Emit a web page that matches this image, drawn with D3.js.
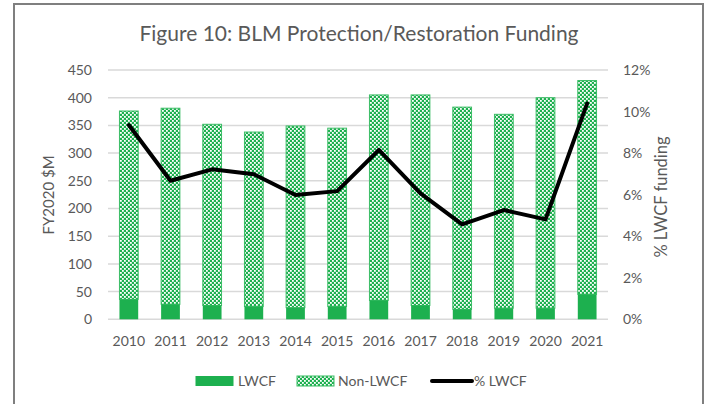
<!DOCTYPE html>
<html><head><meta charset="utf-8">
<script src="https://cdn.jsdelivr.net/npm/d3@7"></script>
<style>html,body{margin:0;padding:0;background:#fff;}svg{display:block;font-family:Lato,"Open Sans",sans-serif;}</style>
</head><body>
<svg id="c" width="709" height="404"></svg>
<script>
const years = ["2010","2011","2012","2013","2014","2015","2016","2017","2018","2019","2020","2021"];
const lwcf = [36,27,25,23,21,23,34,25,18,20,20,45];
const total = [376,381,352,338,349,345,405,405,383,370,400,431];
const pctLwcf = [9.35,6.67,7.22,6.98,5.98,6.17,8.15,6.06,4.57,5.26,4.81,10.39];
const leftTicks = [0,50,100,150,200,250,300,350,400,450];
const rightTicks = [0,2,4,6,8,10,12];

const svg = d3.select("#c");
const grey = "#595959", green = "#1db04f";
const defs = svg.append("defs");
const pat = defs.append("pattern").attr("id","dots").attr("patternUnits","userSpaceOnUse")
  .attr("width",4).attr("height",4);
pat.append("rect").attr("width",4).attr("height",4).attr("fill",green);
[[0,0],[2,2]].forEach(([x,y])=>{
  pat.append("rect").attr("x",x).attr("y",y).attr("width",1.8).attr("height",1.8).attr("fill","#fff");
});

// frame
svg.append("path").attr("d","M14,404 V4 H703 V404").attr("fill","none").attr("stroke","#7f7f7f").attr("stroke-width",2);

const x = d3.scaleBand().domain(years).range([108,608]).paddingInner(0.55).paddingOuter(0.275);
const y = d3.scaleLinear().domain([0,450]).range([319.3,70]);
const y2 = d3.scaleLinear().domain([0,12]).range([319.3,70]);

// gridlines
svg.append("g").selectAll("line").data(leftTicks).join("line")
  .attr("x1",108).attr("x2",608).attr("y1",d=>y(d)).attr("y2",d=>y(d))
  .attr("stroke","#d9d9d9").attr("stroke-width",1.5);

// axes
const ga = svg.append("g").attr("transform","translate(99,0)")
  .call(d3.axisLeft(y).tickValues(leftTicks).tickSize(0).tickPadding(7));
ga.select(".domain").remove();
ga.selectAll("text").attr("fill",grey).style("font-size","14px").style("font-family","Lato");
const gr = svg.append("g").attr("transform","translate(616,0)")
  .call(d3.axisRight(y2).tickValues(rightTicks).tickFormat(d=>d+"%").tickSize(0).tickPadding(7));
gr.select(".domain").remove();
gr.selectAll("text").attr("fill",grey).style("font-size","14px").style("font-family","Lato");
const gx = svg.append("g").attr("transform","translate(0,319.3)")
  .call(d3.axisBottom(x).tickSize(0).tickPadding(17));
gx.select(".domain").remove();
gx.selectAll("text").attr("fill",grey).style("font-size","14px").style("font-family","Lato");

// bars
svg.append("g").selectAll("rect").data(years).join("rect")
  .attr("x",d=>x(d)).attr("width",x.bandwidth())
  .attr("y",(d,i)=>y(total[i])).attr("height",(d,i)=>y(lwcf[i])-y(total[i]))
  .attr("fill","url(#dots)").attr("stroke","#3cbd66").attr("stroke-width",1);
svg.append("g").selectAll("rect").data(years).join("rect")
  .attr("x",d=>x(d)).attr("width",x.bandwidth())
  .attr("y",(d,i)=>y(lwcf[i])).attr("height",(d,i)=>y(0)-y(lwcf[i]))
  .attr("fill",green);

// line
svg.append("path").datum(years)
  .attr("d",d3.line().x(d=>x(d)+x.bandwidth()/2).y((d,i)=>y2(pctLwcf[i])))
  .attr("fill","none").attr("stroke","#000").attr("stroke-width",4).attr("stroke-linejoin","round").attr("stroke-linecap","round");

// titles
svg.append("text").attr("x",359).attr("y",41).attr("text-anchor","middle").attr("fill",grey)
  .style("font-size","21px").text("Figure 10: BLM Protection/Restoration Funding");
svg.append("text").attr("transform","translate(54,195) rotate(-90)").attr("text-anchor","middle").attr("fill",grey)
  .style("font-size","15px").text("FY2020 $M");
svg.append("text").attr("transform","translate(667,197) rotate(-90)").attr("text-anchor","middle").attr("fill",grey)
  .style("font-size","16.5px").text("% LWCF funding");

// legend
const lg = svg.append("g");
lg.append("rect").attr("x",195.5).attr("y",376).attr("width",38).attr("height",10).attr("fill",green);
lg.append("text").attr("x",238).attr("y",386).attr("fill",grey).style("font-size","14px").text("LWCF");
lg.append("rect").attr("x",297).attr("y",376).attr("width",37).attr("height",10).attr("fill","url(#dots)").attr("stroke","#3cbd66");
lg.append("text").attr("x",338).attr("y",386).attr("fill",grey).style("font-size","14px").text("Non-LWCF");
lg.append("line").attr("x1",432).attr("x2",472).attr("y1",381).attr("y2",381).attr("stroke","#000").attr("stroke-width",4).attr("stroke-linecap","round");
lg.append("text").attr("x",474).attr("y",386).attr("fill",grey).style("font-size","14px").text("% LWCF");
</script>
</body></html>
